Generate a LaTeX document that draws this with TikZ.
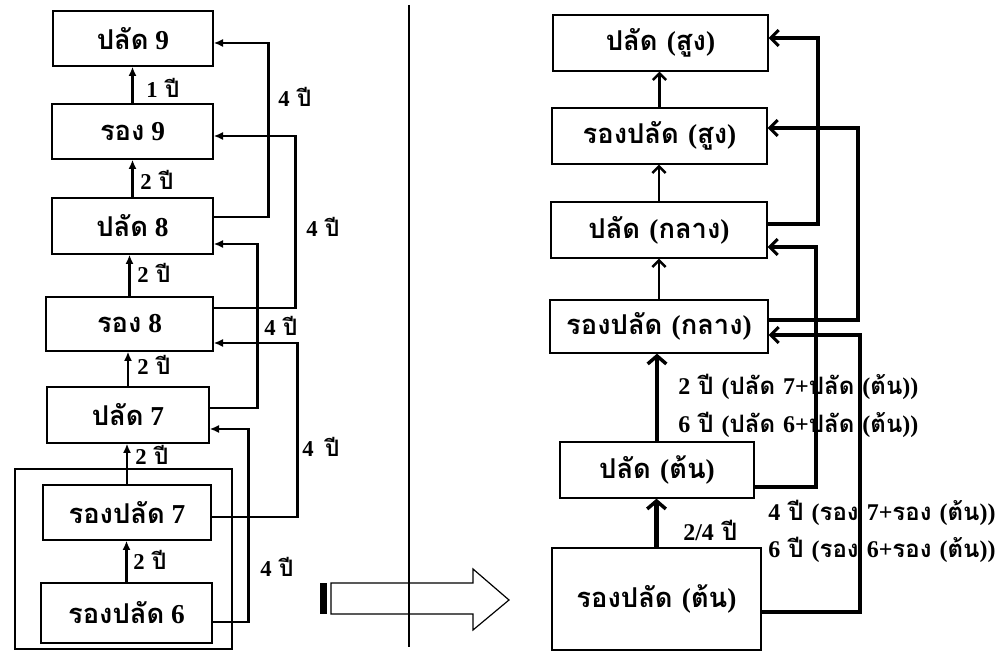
\documentclass[tikz,border=0pt]{standalone}
\usepackage{fontspec}
\setmainfont[Script=Thai]{Loma}
\newfontfamily\latf{Liberation Serif}
\newcommand\lt[1]{{\latf #1}}
\usetikzlibrary{arrows.meta,calc}
\begin{document}
\begin{tikzpicture}[x=0.75pt,y=-0.75pt,
  bx/.style 2 args={draw, line width=1pt, inner sep=0pt,
    minimum width=#1*0.75pt, minimum height=#2*0.75pt,
    font=\fontsize{20.5}{24}\selectfont\bfseries},
  lbl/.style={anchor=west, inner sep=0pt, font=\fontsize{17}{19}\selectfont\bfseries},
  rlbl/.style={anchor=west, inner sep=0pt, font=\fontsize{18}{20}\selectfont\bfseries},
  lup/.style={line width=2pt, -{Latex[length=7pt,width=6pt]}},
  lconn/.style={line width=2pt, -{Latex[length=7pt,width=6pt]}},
  rup/.style={line width=2.2pt, -{Straight Barb[length=5pt,width=10pt,line width=1.8pt]}},
  rupthick/.style={line width=3.4pt, -{Straight Barb[length=6pt,width=14pt,line width=2.6pt]}},
  rconn/.style={line width=2.8pt, -{Straight Barb[length=6pt,width=12pt,line width=2.2pt]}}
]
\useasboundingbox (0,0) rectangle (1001,652);

% ---------------- left column ----------------
\node[bx={160}{55}] (L9) at (133,38.5) {ปลัด\lt{\ 9}};
\node[bx={161}{55}] (R9) at (132.5,131.5) {รอง\lt{\ 9}};
\node[bx={161}{56}] (L8) at (132.5,226) {ปลัด\lt{\ 8}};
\node[bx={167}{54}] (R8) at (129.5,324) {รอง\lt{\ 8}};
\node[bx={162}{56}] (L7) at (128,415) {ปลัด\lt{\ 7}};
\node[bx={168}{55}] (RP7) at (127,512.5) {รองปลัด\lt{\ 7}};
\node[bx={171}{60}] (RP6) at (126.5,613) {รองปลัด\lt{\ 6}};
\node[draw, line width=1.2pt, inner sep=0pt, minimum width=217*0.75pt, minimum height=180*0.75pt] (grp) at (123.5,559) {};

\draw[lup] (R9.north) -- (R9.north |- L9.south);
\draw[lup] (L8.north) -- (L8.north |- R9.south);
\draw[lup] (R8.north) -- (R8.north |- L8.south);
\draw[lup] (L7.north) -- (L7.north |- R8.south);
\draw[lup] (RP7.north) -- (RP7.north |- L7.south);
\draw[lup] (RP6.north) -- (RP6.north |- RP7.south);

\node[lbl] (t1) at (146,88) {\lt{1} ปี};
\node[lbl] (t2) at (140,180) {\lt{2} ปี};
\node[lbl] (t3) at (137,273) {\lt{2} ปี};
\node[lbl] (t4) at (137,365) {\lt{2} ปี};
\node[lbl] (t5) at (135,455) {\lt{2} ปี};
\node[lbl] (t6) at (133,560) {\lt{2} ปี};

\draw[lconn] ($(L8.east)+(0,-9)$) -| ($(L9.east)+(55,4.5)$) -- ($(L9.east)+(0,4.5)$);
\draw[lconn] ($(R8.east)+(0,-16)$) -| ($(R9.east)+(82,4.5)$) -- ($(R9.east)+(0,4.5)$);
\draw[lconn] ($(L7.east)+(0,-7)$) -| ($(L8.east)+(44,18)$) -- ($(L8.east)+(0,18)$);
\draw[lconn] ($(RP7.east)+(0,4.5)$) -| ($(R8.east)+(84,19)$) -- ($(R8.east)+(0,19)$);
\draw[lconn] ($(RP6.east)+(0,9)$) -| ($(L7.east)+(39,14)$) -- ($(L7.east)+(0,14)$);

\node[lbl] (s1) at (278,97) {\lt{4} ปี};
\node[lbl] (s2) at (306,227) {\lt{4} ปี};
\node[lbl] (s3) at (264,326) {\lt{4} ปี};
\node[lbl] (s4) at (302,447) {\lt{4}\, ปี};
\node[lbl] (s5) at (260,567) {\lt{4} ปี};

% ---------------- divider and big arrow ----------------
\draw[line width=1.8pt] (409,5) -- (409,647);
\draw[line width=0.9pt] (331,583) -- (473,583) -- (473,569) -- (509,600) -- (473,630) -- (473,614) -- (331,614) -- cycle;
\fill (320,583) rectangle (327,614);

% ---------------- right column ----------------
\node[bx={215}{56}] (PS) at (660.5,43) {ปลัด \lt{(}สูง\lt{)}};
\node[bx={215}{56}] (RPS) at (659.5,136) {รองปลัด \lt{(}สูง\lt{)}};
\node[bx={216}{56}] (PK) at (659,230) {ปลัด \lt{(}กลาง\lt{)}};
\node[bx={218}{53}] (RPK) at (659,326.5) {รองปลัด \lt{(}กลาง\lt{)}};
\node[bx={194}{56}] (PT) at (657,470) {ปลัด \lt{(}ต้น\lt{)}};
\node[bx={209}{102}] (RPT) at (656.5,599) {รองปลัด \lt{(}ต้น\lt{)}};

\draw[rup] (RPS.north) -- (RPS.north |- PS.south);
\draw[rup] (PK.north) -- (PK.north |- RPS.south);
\draw[rup] (RPK.north) -- (RPK.north |- PK.south);
\draw[rupthick] (PT.north) -- (PT.north |- RPK.south);
\draw[rupthick] (RPT.north) -- (RPT.north |- PT.south);

\node[rlbl] (r1) at (678,387) {\lt{2} ปี \lt{(}ปลัด \lt{7+}ปลัด \lt{(}ต้น\lt{))}};
\node[rlbl] (r2) at (678,425) {\lt{6} ปี \lt{(}ปลัด \lt{6+}ปลัด \lt{(}ต้น\lt{))}};
\node[rlbl] (r3) at (683,530) {\lt{2/4} ปี};
\node[rlbl] (r4) at (768,513) {\lt{4} ปี \lt{(}รอง \lt{7+}รอง \lt{(}ต้น\lt{))}};
\node[rlbl] (r5) at (768,550) {\lt{6} ปี \lt{(}รอง \lt{6+}รอง \lt{(}ต้น\lt{))}};

\draw[rconn] ($(PK.east)+(0,-6)$) -| ($(PS.east)+(49,-5)$) -- ($(PS.east)+(0,-5)$);
\draw[rconn] ($(RPK.east)+(0,-6.5)$) -| ($(RPS.east)+(90,-8)$) -- ($(RPS.east)+(0,-8)$);
\draw[rconn] ($(PT.east)+(0,17)$) -| ($(PK.east)+(48,17)$) -- ($(PK.east)+(0,17)$);
\draw[rconn] ($(RPT.east)+(0,13)$) -| ($(RPK.east)+(91,8.5)$) -- ($(RPK.east)+(0,8.5)$);
\end{tikzpicture}
\end{document}
